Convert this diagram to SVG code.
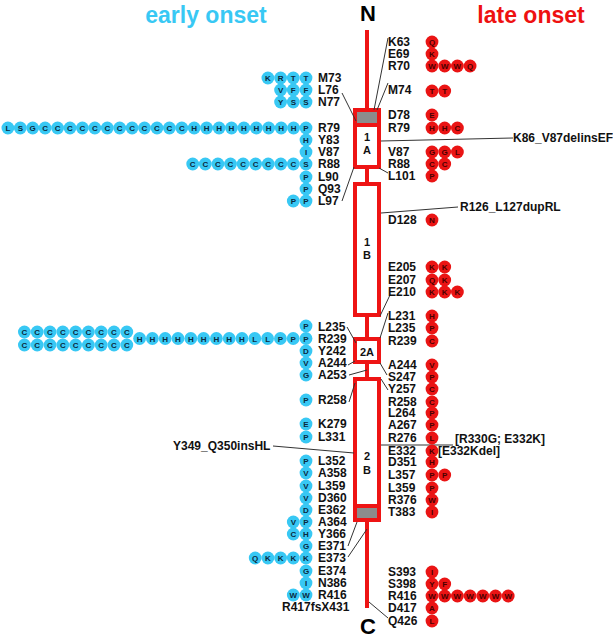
<svg xmlns="http://www.w3.org/2000/svg" width="613" height="639" viewBox="0 0 613 639">
<style>
.lab{font-family:"Liberation Sans",Arial,sans-serif;font-weight:bold;font-size:12px;fill:#111}
.cy{fill:#38c8f4}
.rd{fill:#ea1414}
.ct{font-family:"Liberation Sans",Arial,sans-serif;font-weight:bold;font-size:8px;text-anchor:middle;fill:#0a2a40}
.rt{font-family:"Liberation Sans",Arial,sans-serif;font-weight:bold;font-size:8px;text-anchor:middle;fill:#4a0000}
.conn{stroke:#333;stroke-width:1;fill:none}
.axis{stroke:#ee1414;stroke-width:4;fill:none}
.dom{fill:#fff;stroke:#ee1414;stroke-width:4}
.dt{font-family:"Liberation Sans",Arial,sans-serif;font-weight:bold;font-size:11px;text-anchor:middle;fill:#111}
</style>
<rect width="613" height="639" fill="#fff"/>
<g id="titles">
<text x="206" y="23" text-anchor="middle" font-family="Liberation Sans, Arial, sans-serif" font-weight="bold" font-size="23" fill="#38c8f4">early onset</text>
<text x="531" y="23" text-anchor="middle" font-family="Liberation Sans, Arial, sans-serif" font-weight="bold" font-size="23" fill="#ee1111">late onset</text>
<text x="368" y="21" text-anchor="middle" font-family="Liberation Sans, Arial, sans-serif" font-weight="bold" font-size="22" fill="#000">N</text>
<text x="368" y="634" text-anchor="middle" font-family="Liberation Sans, Arial, sans-serif" font-weight="bold" font-size="22" fill="#000">C</text>
</g>
<g id="protein">
<line class="axis" x1="367" y1="30" x2="367" y2="110"/>
<g id="domain-1A">
<rect class="dom" x="355" y="110" width="24" height="57"/>
<rect x="357" y="112" width="20" height="12" fill="#8c8c8c"/>
<line class="axis" x1="355" y1="125" x2="379" y2="125" stroke-width="3"/>
<text class="dt" x="367" y="141">1</text>
<text class="dt" x="367" y="154">A</text>
</g>
<line class="axis" x1="367" y1="167" x2="367" y2="184"/>
<g id="domain-1B">
<rect class="dom" x="355" y="184" width="24" height="131"/>
<text class="dt" x="367" y="246">1</text>
<text class="dt" x="367" y="259">B</text>
</g>
<line class="axis" x1="367" y1="315" x2="367" y2="339"/>
<g id="domain-2A">
<rect class="dom" x="355" y="339" width="24" height="23"/>
<text class="dt" x="367" y="356">2A</text>
</g>
<line class="axis" x1="367" y1="362" x2="367" y2="379"/>
<g id="domain-2B">
<rect class="dom" x="355" y="379" width="24" height="141"/>
<line class="axis" x1="355" y1="506" x2="379" y2="506" stroke-width="3"/>
<rect x="357" y="508" width="20" height="10" fill="#8c8c8c"/>
<text class="dt" x="367" y="460">2</text>
<text class="dt" x="367" y="474">B</text>
</g>
<line class="axis" x1="367" y1="520" x2="367" y2="608"/>
</g>
<g id="connectors">
<line class="conn" x1="388" y1="38" x2="374" y2="110"/>
<line class="conn" x1="388" y1="83" x2="377" y2="110"/>
<line class="conn" x1="388" y1="173" x2="379" y2="168"/>
<line class="conn" x1="390" y1="295" x2="380" y2="316"/>
<line class="conn" x1="388" y1="313" x2="380" y2="338"/>
<line class="conn" x1="387" y1="375" x2="380" y2="363"/>
<line class="conn" x1="388" y1="390" x2="381" y2="379"/>
<line class="conn" x1="388" y1="618" x2="369" y2="602"/>
<line class="conn" x1="381" y1="141" x2="513" y2="138"/>
<line class="conn" x1="381" y1="213" x2="458" y2="207"/>
<line class="conn" x1="381" y1="445" x2="453" y2="445"/>
<line class="conn" x1="342" y1="93" x2="356" y2="121"/>
<line class="conn" x1="342" y1="201" x2="354" y2="167"/>
<line class="conn" x1="347" y1="327" x2="356" y2="343"/>
<line class="conn" x1="348" y1="365" x2="355" y2="361"/>
<line class="conn" x1="349" y1="375" x2="367" y2="370"/>
<line class="conn" x1="349" y1="402" x2="355" y2="383"/>
<line class="conn" x1="273" y1="446" x2="354" y2="453"/>
<line class="conn" x1="348" y1="546" x2="357" y2="522"/>
<line class="conn" x1="348" y1="557" x2="367" y2="529"/>
</g>
<g id="annotations">
<text class="lab" x="513" y="142" font-size="11.5">K86_V87delinsEF</text>
<text class="lab" x="460" y="211">R126_L127dupRL</text>
<text class="lab" x="455" y="443">[R330G; E332K]</text>
<text class="lab" x="438" y="455">[E332Kdel]</text>
<text class="lab" x="173" y="450">Y349_Q350insHL</text>
</g>
<g id="late-onset">
<g id="late-K63"><text class="lab" x="388" y="46">K63</text><circle class="rd" cx="432" cy="42" r="6.4"/><text class="rt" x="432" y="45">Q</text></g>
<g id="late-E69"><text class="lab" x="388" y="58">E69</text><circle class="rd" cx="432" cy="54" r="6.4"/><text class="rt" x="432" y="57">K</text></g>
<g id="late-R70"><text class="lab" x="388" y="70">R70</text>
<circle class="rd" cx="432" cy="66" r="6.4"/><text class="rt" x="432" y="69">W</text>
<circle class="rd" cx="444.7" cy="66" r="6.4"/><text class="rt" x="444.7" y="69">W</text>
<circle class="rd" cx="457.4" cy="66" r="6.4"/><text class="rt" x="457.4" y="69">W</text>
<circle class="rd" cx="470.1" cy="66" r="6.4"/><text class="rt" x="470.1" y="69">Q</text></g>
<g id="late-M74"><text class="lab" x="388" y="94">M74</text>
<circle class="rd" cx="432" cy="91" r="6.4"/><text class="rt" x="432" y="94">T</text>
<circle class="rd" cx="444.7" cy="91" r="6.4"/><text class="rt" x="444.7" y="94">T</text></g>
<g id="late-D78"><text class="lab" x="388" y="119">D78</text><circle class="rd" cx="432" cy="115" r="6.4"/><text class="rt" x="432" y="118">E</text></g>
<g id="late-R79"><text class="lab" x="388" y="132">R79</text>
<circle class="rd" cx="432" cy="128" r="6.4"/><text class="rt" x="432" y="131">H</text>
<circle class="rd" cx="444.7" cy="128" r="6.4"/><text class="rt" x="444.7" y="131">H</text>
<circle class="rd" cx="457.4" cy="128" r="6.4"/><text class="rt" x="457.4" y="131">C</text></g>
<g id="late-V87"><text class="lab" x="388" y="156">V87</text>
<circle class="rd" cx="432" cy="152" r="6.4"/><text class="rt" x="432" y="155">G</text>
<circle class="rd" cx="444.7" cy="152" r="6.4"/><text class="rt" x="444.7" y="155">G</text>
<circle class="rd" cx="457.4" cy="152" r="6.4"/><text class="rt" x="457.4" y="155">L</text></g>
<g id="late-R88"><text class="lab" x="388" y="168">R88</text>
<circle class="rd" cx="432" cy="164" r="6.4"/><text class="rt" x="432" y="167">C</text>
<circle class="rd" cx="444.7" cy="164" r="6.4"/><text class="rt" x="444.7" y="167">C</text></g>
<g id="late-L101"><text class="lab" x="388" y="180">L101</text><circle class="rd" cx="432" cy="176" r="6.4"/><text class="rt" x="432" y="179">P</text></g>
<g id="late-D128"><text class="lab" x="388" y="224">D128</text><circle class="rd" cx="432" cy="220" r="6.4"/><text class="rt" x="432" y="223">N</text></g>
<g id="late-E205"><text class="lab" x="388" y="271">E205</text>
<circle class="rd" cx="432" cy="267" r="6.4"/><text class="rt" x="432" y="270">K</text>
<circle class="rd" cx="444.7" cy="267" r="6.4"/><text class="rt" x="444.7" y="270">K</text></g>
<g id="late-E207"><text class="lab" x="388" y="284">E207</text>
<circle class="rd" cx="432" cy="280" r="6.4"/><text class="rt" x="432" y="283">Q</text>
<circle class="rd" cx="444.7" cy="280" r="6.4"/><text class="rt" x="444.7" y="283">K</text></g>
<g id="late-E210"><text class="lab" x="388" y="296">E210</text>
<circle class="rd" cx="432" cy="292" r="6.4"/><text class="rt" x="432" y="295">K</text>
<circle class="rd" cx="444.7" cy="292" r="6.4"/><text class="rt" x="444.7" y="295">K</text>
<circle class="rd" cx="457.4" cy="292" r="6.4"/><text class="rt" x="457.4" y="295">K</text></g>
<g id="late-L231"><text class="lab" x="388" y="320">L231</text><circle class="rd" cx="432" cy="316" r="6.4"/><text class="rt" x="432" y="319">H</text></g>
<g id="late-L235"><text class="lab" x="388" y="332">L235</text><circle class="rd" cx="432" cy="328" r="6.4"/><text class="rt" x="432" y="331">P</text></g>
<g id="late-R239"><text class="lab" x="388" y="345">R239</text><circle class="rd" cx="432" cy="341" r="6.4"/><text class="rt" x="432" y="344">C</text></g>
<g id="late-A244"><text class="lab" x="388" y="369">A244</text><circle class="rd" cx="432" cy="365" r="6.4"/><text class="rt" x="432" y="368">V</text></g>
<g id="late-S247"><text class="lab" x="388" y="381">S247</text><circle class="rd" cx="432" cy="377" r="6.4"/><text class="rt" x="432" y="380">P</text></g>
<g id="late-Y257"><text class="lab" x="388" y="393">Y257</text><circle class="rd" cx="432" cy="389" r="6.4"/><text class="rt" x="432" y="392">C</text></g>
<g id="late-R258"><text class="lab" x="388" y="406">R258</text><circle class="rd" cx="432" cy="402" r="6.4"/><text class="rt" x="432" y="405">C</text></g>
<g id="late-L264"><text class="lab" x="388" y="417">L264</text><circle class="rd" cx="432" cy="413" r="6.4"/><text class="rt" x="432" y="416">P</text></g>
<g id="late-A267"><text class="lab" x="388" y="429">A267</text><circle class="rd" cx="432" cy="425" r="6.4"/><text class="rt" x="432" y="428">P</text></g>
<g id="late-R276"><text class="lab" x="388" y="442">R276</text><circle class="rd" cx="432" cy="438" r="6.4"/><text class="rt" x="432" y="441">L</text></g>
<g id="late-E332"><text class="lab" x="388" y="455">E332</text><circle class="rd" cx="432" cy="451" r="6.4"/><text class="rt" x="432" y="454">K</text></g>
<g id="late-D351"><text class="lab" x="388" y="466">D351</text><circle class="rd" cx="432" cy="462" r="6.4"/><text class="rt" x="432" y="465">H</text></g>
<g id="late-L357"><text class="lab" x="388" y="479">L357</text>
<circle class="rd" cx="432" cy="475" r="6.4"/><text class="rt" x="432" y="478">P</text>
<circle class="rd" cx="444.7" cy="475" r="6.4"/><text class="rt" x="444.7" y="478">P</text></g>
<g id="late-L359"><text class="lab" x="388" y="492">L359</text><circle class="rd" cx="432" cy="488" r="6.4"/><text class="rt" x="432" y="491">P</text></g>
<g id="late-R376"><text class="lab" x="388" y="504">R376</text><circle class="rd" cx="432" cy="500" r="6.4"/><text class="rt" x="432" y="503">W</text></g>
<g id="late-T383"><text class="lab" x="388" y="516">T383</text><circle class="rd" cx="432" cy="512" r="6.4"/><text class="rt" x="432" y="515">I</text></g>
<g id="late-S393"><text class="lab" x="388" y="576">S393</text><circle class="rd" cx="432" cy="572" r="6.4"/><text class="rt" x="432" y="575">I</text></g>
<g id="late-S398"><text class="lab" x="388" y="588">S398</text>
<circle class="rd" cx="432" cy="584" r="6.4"/><text class="rt" x="432" y="587">Y</text>
<circle class="rd" cx="444.7" cy="584" r="6.4"/><text class="rt" x="444.7" y="587">F</text></g>
<g id="late-R416"><text class="lab" x="388" y="600">R416</text>
<circle class="rd" cx="432" cy="596" r="6.4"/><text class="rt" x="432" y="599">W</text>
<circle class="rd" cx="444.7" cy="596" r="6.4"/><text class="rt" x="444.7" y="599">W</text>
<circle class="rd" cx="457.4" cy="596" r="6.4"/><text class="rt" x="457.4" y="599">W</text>
<circle class="rd" cx="470.1" cy="596" r="6.4"/><text class="rt" x="470.1" y="599">W</text>
<circle class="rd" cx="482.8" cy="596" r="6.4"/><text class="rt" x="482.8" y="599">W</text>
<circle class="rd" cx="495.5" cy="596" r="6.4"/><text class="rt" x="495.5" y="599">W</text>
<circle class="rd" cx="508.2" cy="596" r="6.4"/><text class="rt" x="508.2" y="599">W</text></g>
<g id="late-D417"><text class="lab" x="388" y="612">D417</text><circle class="rd" cx="432" cy="608" r="6.4"/><text class="rt" x="432" y="611">A</text></g>
<g id="late-Q426"><text class="lab" x="388" y="625">Q426</text><circle class="rd" cx="432" cy="621" r="6.4"/><text class="rt" x="432" y="624">L</text></g>
</g>
<g id="early-onset">
<g id="early-M73"><text class="lab" x="318" y="82">M73</text>
<circle class="cy" cx="267.9" cy="78" r="6.4"/><text class="ct" x="267.9" y="81">K</text>
<circle class="cy" cx="280.6" cy="78" r="6.4"/><text class="ct" x="280.6" y="81">R</text>
<circle class="cy" cx="293.3" cy="78" r="6.4"/><text class="ct" x="293.3" y="81">T</text>
<circle class="cy" cx="306" cy="78" r="6.4"/><text class="ct" x="306" y="81">T</text></g>
<g id="early-L76"><text class="lab" x="318" y="94">L76</text>
<circle class="cy" cx="280.6" cy="90" r="6.4"/><text class="ct" x="280.6" y="93">V</text>
<circle class="cy" cx="293.3" cy="90" r="6.4"/><text class="ct" x="293.3" y="93">F</text>
<circle class="cy" cx="306" cy="90" r="6.4"/><text class="ct" x="306" y="93">F</text></g>
<g id="early-N77"><text class="lab" x="318" y="106">N77</text>
<circle class="cy" cx="280.6" cy="102" r="6.4"/><text class="ct" x="280.6" y="105">Y</text>
<circle class="cy" cx="293.3" cy="102" r="6.4"/><text class="ct" x="293.3" y="105">S</text>
<circle class="cy" cx="306" cy="102" r="6.4"/><text class="ct" x="306" y="105">S</text></g>
<g id="early-R79"><text class="lab" x="318" y="132">R79</text>
<circle class="cy" cx="7.9" cy="128" r="6.4"/><text class="ct" x="7.9" y="131">L</text>
<circle class="cy" cx="20.3" cy="128" r="6.4"/><text class="ct" x="20.3" y="131">S</text>
<circle class="cy" cx="32.7" cy="128" r="6.4"/><text class="ct" x="32.7" y="131">G</text>
<circle class="cy" cx="45.1" cy="128" r="6.4"/><text class="ct" x="45.1" y="131">C</text>
<circle class="cy" cx="57.6" cy="128" r="6.4"/><text class="ct" x="57.6" y="131">C</text>
<circle class="cy" cx="70.0" cy="128" r="6.4"/><text class="ct" x="70.0" y="131">C</text>
<circle class="cy" cx="82.4" cy="128" r="6.4"/><text class="ct" x="82.4" y="131">C</text>
<circle class="cy" cx="94.8" cy="128" r="6.4"/><text class="ct" x="94.8" y="131">C</text>
<circle class="cy" cx="107.3" cy="128" r="6.4"/><text class="ct" x="107.3" y="131">C</text>
<circle class="cy" cx="119.7" cy="128" r="6.4"/><text class="ct" x="119.7" y="131">C</text>
<circle class="cy" cx="132.1" cy="128" r="6.4"/><text class="ct" x="132.1" y="131">C</text>
<circle class="cy" cx="144.5" cy="128" r="6.4"/><text class="ct" x="144.5" y="131">C</text>
<circle class="cy" cx="157.0" cy="128" r="6.4"/><text class="ct" x="157.0" y="131">C</text>
<circle class="cy" cx="169.4" cy="128" r="6.4"/><text class="ct" x="169.4" y="131">C</text>
<circle class="cy" cx="181.8" cy="128" r="6.4"/><text class="ct" x="181.8" y="131">C</text>
<circle class="cy" cx="194.2" cy="128" r="6.4"/><text class="ct" x="194.2" y="131">H</text>
<circle class="cy" cx="206.6" cy="128" r="6.4"/><text class="ct" x="206.6" y="131">H</text>
<circle class="cy" cx="219.1" cy="128" r="6.4"/><text class="ct" x="219.1" y="131">H</text>
<circle class="cy" cx="231.5" cy="128" r="6.4"/><text class="ct" x="231.5" y="131">H</text>
<circle class="cy" cx="243.9" cy="128" r="6.4"/><text class="ct" x="243.9" y="131">H</text>
<circle class="cy" cx="256.3" cy="128" r="6.4"/><text class="ct" x="256.3" y="131">H</text>
<circle class="cy" cx="268.7" cy="128" r="6.4"/><text class="ct" x="268.7" y="131">H</text>
<circle class="cy" cx="281.2" cy="128" r="6.4"/><text class="ct" x="281.2" y="131">H</text>
<circle class="cy" cx="293.6" cy="128" r="6.4"/><text class="ct" x="293.6" y="131">H</text>
<circle class="cy" cx="306" cy="128" r="6.4"/><text class="ct" x="306" y="131">P</text></g>
<g id="early-Y83"><text class="lab" x="318" y="144">Y83</text><circle class="cy" cx="306" cy="140" r="6.4"/><text class="ct" x="306" y="143">H</text></g>
<g id="early-V87"><text class="lab" x="318" y="156">V87</text><circle class="cy" cx="306" cy="152" r="6.4"/><text class="ct" x="306" y="155">I</text></g>
<g id="early-R88"><text class="lab" x="318" y="168">R88</text>
<circle class="cy" cx="192.7" cy="164" r="6.4"/><text class="ct" x="192.7" y="167">C</text>
<circle class="cy" cx="205.3" cy="164" r="6.4"/><text class="ct" x="205.3" y="167">C</text>
<circle class="cy" cx="217.9" cy="164" r="6.4"/><text class="ct" x="217.9" y="167">C</text>
<circle class="cy" cx="230.5" cy="164" r="6.4"/><text class="ct" x="230.5" y="167">C</text>
<circle class="cy" cx="243.1" cy="164" r="6.4"/><text class="ct" x="243.1" y="167">C</text>
<circle class="cy" cx="255.6" cy="164" r="6.4"/><text class="ct" x="255.6" y="167">C</text>
<circle class="cy" cx="268.2" cy="164" r="6.4"/><text class="ct" x="268.2" y="167">C</text>
<circle class="cy" cx="280.8" cy="164" r="6.4"/><text class="ct" x="280.8" y="167">C</text>
<circle class="cy" cx="293.4" cy="164" r="6.4"/><text class="ct" x="293.4" y="167">C</text>
<circle class="cy" cx="306" cy="164" r="6.4"/><text class="ct" x="306" y="167">S</text></g>
<g id="early-L90"><text class="lab" x="318" y="181">L90</text><circle class="cy" cx="306" cy="177" r="6.4"/><text class="ct" x="306" y="180">P</text></g>
<g id="early-Q93"><text class="lab" x="318" y="193">Q93</text><circle class="cy" cx="306" cy="189" r="6.4"/><text class="ct" x="306" y="192">P</text></g>
<g id="early-L97"><text class="lab" x="318" y="205">L97</text>
<circle class="cy" cx="293.3" cy="201" r="6.4"/><text class="ct" x="293.3" y="204">P</text>
<circle class="cy" cx="306" cy="201" r="6.4"/><text class="ct" x="306" y="204">P</text></g>
<g id="early-L235"><text class="lab" x="318" y="331">L235</text><circle class="cy" cx="306" cy="326" r="6.4"/><text class="ct" x="306" y="329">P</text></g>
<g id="early-R239"><text class="lab" x="318" y="343">R239</text>
<circle class="cy" cx="306" cy="338.5" r="6.4"/><text class="ct" x="306" y="341.5">P</text>
<circle class="cy" cx="293.2" cy="338.5" r="6.4"/><text class="ct" x="293.2" y="341.5">P</text>
<circle class="cy" cx="280.4" cy="338.5" r="6.4"/><text class="ct" x="280.4" y="341.5">P</text>
<circle class="cy" cx="267.6" cy="338.5" r="6.4"/><text class="ct" x="267.6" y="341.5">L</text>
<circle class="cy" cx="254.8" cy="338.5" r="6.4"/><text class="ct" x="254.8" y="341.5">L</text>
<circle class="cy" cx="242.0" cy="338.5" r="6.4"/><text class="ct" x="242.0" y="341.5">H</text>
<circle class="cy" cx="229.2" cy="338.5" r="6.4"/><text class="ct" x="229.2" y="341.5">H</text>
<circle class="cy" cx="216.4" cy="338.5" r="6.4"/><text class="ct" x="216.4" y="341.5">H</text>
<circle class="cy" cx="203.6" cy="338.5" r="6.4"/><text class="ct" x="203.6" y="341.5">H</text>
<circle class="cy" cx="190.8" cy="338.5" r="6.4"/><text class="ct" x="190.8" y="341.5">H</text>
<circle class="cy" cx="178.0" cy="338.5" r="6.4"/><text class="ct" x="178.0" y="341.5">H</text>
<circle class="cy" cx="165.2" cy="338.5" r="6.4"/><text class="ct" x="165.2" y="341.5">H</text>
<circle class="cy" cx="152.4" cy="338.5" r="6.4"/><text class="ct" x="152.4" y="341.5">H</text>
<circle class="cy" cx="139.6" cy="338.5" r="6.4"/><text class="ct" x="139.6" y="341.5">H</text>
<circle class="cy" cx="126.8" cy="332" r="6.4"/><text class="ct" x="126.8" y="335">C</text>
<circle class="cy" cx="114.0" cy="332" r="6.4"/><text class="ct" x="114.0" y="335">C</text>
<circle class="cy" cx="101.2" cy="332" r="6.4"/><text class="ct" x="101.2" y="335">C</text>
<circle class="cy" cx="88.4" cy="332" r="6.4"/><text class="ct" x="88.4" y="335">C</text>
<circle class="cy" cx="75.6" cy="332" r="6.4"/><text class="ct" x="75.6" y="335">C</text>
<circle class="cy" cx="62.8" cy="332" r="6.4"/><text class="ct" x="62.8" y="335">C</text>
<circle class="cy" cx="50.0" cy="332" r="6.4"/><text class="ct" x="50.0" y="335">C</text>
<circle class="cy" cx="37.2" cy="332" r="6.4"/><text class="ct" x="37.2" y="335">C</text>
<circle class="cy" cx="24.4" cy="332" r="6.4"/><text class="ct" x="24.4" y="335">C</text>
<circle class="cy" cx="126.8" cy="345" r="6.4"/><text class="ct" x="126.8" y="348">C</text>
<circle class="cy" cx="114.0" cy="345" r="6.4"/><text class="ct" x="114.0" y="348">C</text>
<circle class="cy" cx="101.2" cy="345" r="6.4"/><text class="ct" x="101.2" y="348">C</text>
<circle class="cy" cx="88.4" cy="345" r="6.4"/><text class="ct" x="88.4" y="348">C</text>
<circle class="cy" cx="75.6" cy="345" r="6.4"/><text class="ct" x="75.6" y="348">C</text>
<circle class="cy" cx="62.8" cy="345" r="6.4"/><text class="ct" x="62.8" y="348">C</text>
<circle class="cy" cx="50.0" cy="345" r="6.4"/><text class="ct" x="50.0" y="348">C</text>
<circle class="cy" cx="37.2" cy="345" r="6.4"/><text class="ct" x="37.2" y="348">C</text>
<circle class="cy" cx="24.4" cy="345" r="6.4"/><text class="ct" x="24.4" y="348">C</text></g>
<g id="early-Y242"><text class="lab" x="318" y="355">Y242</text><circle class="cy" cx="306" cy="351" r="6.4"/><text class="ct" x="306" y="354">D</text></g>
<g id="early-A244"><text class="lab" x="318" y="367">A244</text><circle class="cy" cx="306" cy="363" r="6.4"/><text class="ct" x="306" y="366">V</text></g>
<g id="early-A253"><text class="lab" x="318" y="379">A253</text><circle class="cy" cx="306" cy="375" r="6.4"/><text class="ct" x="306" y="378">G</text></g>
<g id="early-R258"><text class="lab" x="318" y="404">R258</text><circle class="cy" cx="306" cy="400" r="6.4"/><text class="ct" x="306" y="403">P</text></g>
<g id="early-K279"><text class="lab" x="318" y="428">K279</text><circle class="cy" cx="306" cy="424" r="6.4"/><text class="ct" x="306" y="427">E</text></g>
<g id="early-L331"><text class="lab" x="318" y="441">L331</text><circle class="cy" cx="306" cy="437" r="6.4"/><text class="ct" x="306" y="440">P</text></g>
<g id="early-L352"><text class="lab" x="318" y="465">L352</text><circle class="cy" cx="306" cy="461" r="6.4"/><text class="ct" x="306" y="464">P</text></g>
<g id="early-A358"><text class="lab" x="318" y="477">A358</text><circle class="cy" cx="306" cy="473" r="6.4"/><text class="ct" x="306" y="476">V</text></g>
<g id="early-L359"><text class="lab" x="318" y="490">L359</text><circle class="cy" cx="306" cy="486" r="6.4"/><text class="ct" x="306" y="489">V</text></g>
<g id="early-D360"><text class="lab" x="318" y="502">D360</text><circle class="cy" cx="306" cy="498" r="6.4"/><text class="ct" x="306" y="501">V</text></g>
<g id="early-E362"><text class="lab" x="318" y="514">E362</text><circle class="cy" cx="306" cy="510" r="6.4"/><text class="ct" x="306" y="513">D</text></g>
<g id="early-A364"><text class="lab" x="318" y="526">A364</text>
<circle class="cy" cx="293.3" cy="522" r="6.4"/><text class="ct" x="293.3" y="525">V</text>
<circle class="cy" cx="306" cy="522" r="6.4"/><text class="ct" x="306" y="525">P</text></g>
<g id="early-Y366"><text class="lab" x="318" y="538">Y366</text>
<circle class="cy" cx="293.3" cy="534" r="6.4"/><text class="ct" x="293.3" y="537">C</text>
<circle class="cy" cx="306" cy="534" r="6.4"/><text class="ct" x="306" y="537">H</text></g>
<g id="early-E371"><text class="lab" x="318" y="550">E371</text><circle class="cy" cx="306" cy="546" r="6.4"/><text class="ct" x="306" y="549">G</text></g>
<g id="early-E373"><text class="lab" x="318" y="562">E373</text>
<circle class="cy" cx="255.2" cy="558" r="6.4"/><text class="ct" x="255.2" y="561">Q</text>
<circle class="cy" cx="267.9" cy="558" r="6.4"/><text class="ct" x="267.9" y="561">K</text>
<circle class="cy" cx="280.6" cy="558" r="6.4"/><text class="ct" x="280.6" y="561">K</text>
<circle class="cy" cx="293.3" cy="558" r="6.4"/><text class="ct" x="293.3" y="561">K</text>
<circle class="cy" cx="306" cy="558" r="6.4"/><text class="ct" x="306" y="561">K</text></g>
<g id="early-E374"><text class="lab" x="318" y="575">E374</text><circle class="cy" cx="306" cy="571" r="6.4"/><text class="ct" x="306" y="574">G</text></g>
<g id="early-N386"><text class="lab" x="318" y="587">N386</text><circle class="cy" cx="306" cy="583" r="6.4"/><text class="ct" x="306" y="586">I</text></g>
<g id="early-R416"><text class="lab" x="318" y="599">R416</text>
<circle class="cy" cx="293.3" cy="595" r="6.4"/><text class="ct" x="293.3" y="598">W</text>
<circle class="cy" cx="306" cy="595" r="6.4"/><text class="ct" x="306" y="598">W</text></g>
<g id="early-R417fsX431"><text class="lab" x="282" y="611">R417fsX431</text></g>
</g>
</svg>
